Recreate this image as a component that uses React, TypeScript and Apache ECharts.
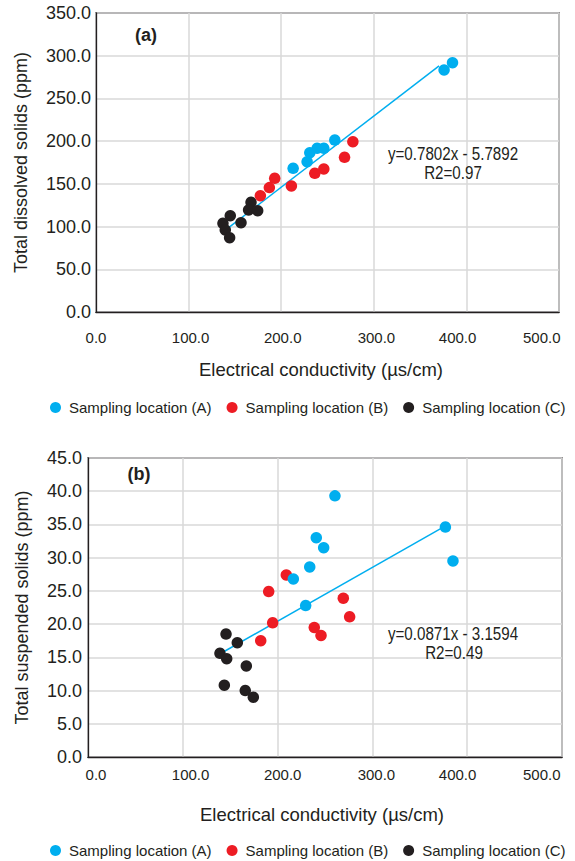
import React, { useEffect, useRef } from "react";
import * as echarts from "echarts";

// ---- data ----
const seriesNames = ["Sampling location (A)", "Sampling location (B)", "Sampling location (C)"];

// (a) Total dissolved solids vs electrical conductivity
const tdsA = [[385, 291.8], [375.9, 283.3], [257.9, 201.3], [246, 191.6], [238.8, 191.6], [230.9, 186.5], [228, 175.9], [212.9, 168.2]];
const tdsB = [[277.4, 199.4], [268.4, 181.1], [246, 167.4], [236.3, 162.4], [211, 147.5], [193, 156.5], [187.2, 145.6], [177.5, 136.2]];
const tdsC = [[167.4, 128.4], [164.8, 119.4], [174.6, 118.6], [145, 112.7], [156.6, 104.5], [137.1, 103.8], [139.6, 96], [144.3, 87]];
const tdsTrend = [[143.2, 98.7], [370.5, 288]];
const tdsEquation = "y=0.7802x - 5.7892";
const tdsR2 = "R2=0.97";

// (b) Total suspended solids vs electrical conductivity
const tssA = [[260.5, 39.3], [377, 34.6], [385, 29.5], [240.8, 33], [248.6, 31.5], [233.9, 28.6], [216.6, 26.8], [229.6, 22.8]];
const tssB = [[209.2, 27.4], [190.6, 24.9], [194.8, 20.2], [182.2, 17.5], [238.7, 19.5], [245.8, 18.3], [269.3, 23.9], [276, 21.1]];
const tssC = [[145.6, 18.5], [157.5, 17.2], [139.2, 15.6], [146.3, 14.8], [167, 13.7], [143.8, 10.8], [165.9, 10], [174.4, 9]];
const tssTrend = [[142.7, 15.8], [374.8, 34.6]];
const tssEquation = "y=0.0871x - 3.1594";
const tssR2 = "R2=0.49";

const xTicks = [0, 100, 200, 300, 400, 500];
const xTitle = "Electrical conductivity (\u00b5s/cm)";
const yTitleTop = "Total dissolved solids (ppm)";
const yTitleBottom = "Total suspended solids (ppm)";

// ---- styles ----
const COLORS = ["#00aeef", "#ed1c24", "#231f20"];
const TEXT = "#231f20";
const FONT = "'Liberation Sans', Arial, sans-serif";
const GRIDLINE = "#d9d9d9";

// label shifts (px) of the x tick labels relative to their ticks, as printed in the reference
const shiftTop = [0, 2, 1.5, 2.6, -8.8, -17.2];
const shiftBottom = [8, 7.8, 5.1, 4, -9.6, -20.2];

function xLabelRich(shifts: number[]) {
  const rich: any = {};
  shifts.forEach((s, i) => {
    rich["s" + i] = {
      fontFamily: FONT,
      fontSize: 15,
      color: TEXT,
      padding: s >= 0 ? [0, 0, 0, 2 * s] : [0, -2 * s, 0, 0],
    };
  });
  return rich;
}

function xAxisFor(gridIndex: number, shifts: number[], margin: number) {
  return {
    type: "value",
    gridIndex,
    min: 0,
    max: 500,
    interval: 100,
    axisLine: { show: true, lineStyle: { color: TEXT, width: 1.3 } },
    axisTick: { show: false },
    splitLine: { show: true, lineStyle: { color: GRIDLINE, width: 1.5 } },
    axisLabel: {
      margin,
      formatter: (v: number) => {
        const i = xTicks.indexOf(v);
        return "{s" + (i < 0 ? 0 : i) + "|" + v.toFixed(1) + "}";
      },
      rich: xLabelRich(shifts),
    },
  };
}

function yAxisFor(gridIndex: number, max: number, interval: number, name: string, nameGap: number, margin: number) {
  return {
    type: "value",
    gridIndex,
    min: 0,
    max,
    interval,
    name,
    nameLocation: "middle",
    nameGap,
    nameTextStyle: { fontFamily: FONT, fontSize: 18, color: TEXT },
    axisLine: { show: true, lineStyle: { color: TEXT, width: 1.3 } },
    axisTick: { show: false },
    splitLine: { show: true, lineStyle: { color: GRIDLINE, width: 1.5 } },
    axisLabel: {
      margin,
      fontFamily: FONT,
      fontSize: 18,
      color: TEXT,
      formatter: (v: number) => v.toFixed(1),
    },
  };
}

function scatter(name: string, data: number[][], color: string, gi: number) {
  return {
    type: "scatter",
    name,
    xAxisIndex: gi,
    yAxisIndex: gi,
    data,
    symbol: "circle",
    symbolSize: 11.5,
    itemStyle: { color, opacity: 1 },
    z: 3,
  };
}

function trend(data: number[][], gi: number) {
  return {
    type: "line",
    name: "trend" + gi,
    xAxisIndex: gi,
    yAxisIndex: gi,
    data,
    symbol: "none",
    lineStyle: { color: COLORS[0], width: 1.5 },
    z: 2,
  };
}

function legendAt(top: number) {
  return {
    data: seriesNames,
    left: 50,
    top,
    padding: 0,
    icon: "circle",
    itemWidth: 11,
    itemHeight: 11,
    itemGap: 15,
    selectedMode: false,
    textStyle: { fontFamily: FONT, fontSize: 15, color: TEXT, padding: [0, 0, 0, 3] },
  };
}

function txt(text: string, x: number, y: number, size: number, weight: string = "normal", scaleX: number = 1) {
  return {
    type: "text",
    x,
    y,
    scaleX,
    style: {
      text,
      fontFamily: FONT,
      fontSize: size,
      fontWeight: weight,
      fill: TEXT,
      align: "center",
      verticalAlign: "middle",
    },
    z: 10,
  };
}

export default function App() {
  const ref = useRef<HTMLDivElement>(null);
  useEffect(() => {
    if (!ref.current) return;
    const chart = echarts.init(ref.current, undefined, { renderer: "svg" });
    chart.setOption({
      animation: false,
      backgroundColor: "#ffffff",
      grid: [
        { left: 96, top: 13, width: 463, height: 299, show: true, borderColor: TEXT, borderWidth: 1.3, backgroundColor: "transparent", containLabel: false, outerBoundsMode: "none" },
        { left: 88, top: 458, width: 474, height: 299, show: true, borderColor: TEXT, borderWidth: 1.3, backgroundColor: "transparent", containLabel: false, outerBoundsMode: "none" },
      ],
      xAxis: [xAxisFor(0, shiftTop, 18), xAxisFor(1, shiftBottom, 10)],
      yAxis: [
        yAxisFor(0, 350, 50, yTitleTop, 66, 5),
        yAxisFor(1, 45, 5, yTitleBottom, 57, 6),
      ],
      legend: [legendAt(400), legendAt(843)],
      series: [
        trend(tdsTrend, 0),
        scatter(seriesNames[1], tdsB, COLORS[1], 0),
        scatter(seriesNames[2], tdsC, COLORS[2], 0),
        scatter(seriesNames[0], tdsA, COLORS[0], 0),
        trend(tssTrend, 1),
        scatter(seriesNames[1], tssB, COLORS[1], 1),
        scatter(seriesNames[2], tssC, COLORS[2], 1),
        scatter(seriesNames[0], tssA, COLORS[0], 1),
      ],
      graphic: [
        txt("(a)", 146, 35, 18, "bold"),
        txt("(b)", 139, 474, 18, "bold"),
        txt(xTitle, 321, 369, 18.5),
        txt(xTitle, 322, 814, 18.5),
        txt(tdsEquation, 453, 154, 18.5, "normal", 0.82),
        txt(tdsR2, 453, 173, 18.5, "normal", 0.82),
        txt(tssEquation, 453, 634, 18.5, "normal", 0.82),
        txt(tssR2, 454, 653, 18.5, "normal", 0.82),
      ],
    });
    return () => chart.dispose();
  }, []);
  return (
    <div
      ref={ref}
      style={{ position: "absolute", left: 0, top: 0, width: 575, height: 861, background: "#fff" }}
    />
  );
}
